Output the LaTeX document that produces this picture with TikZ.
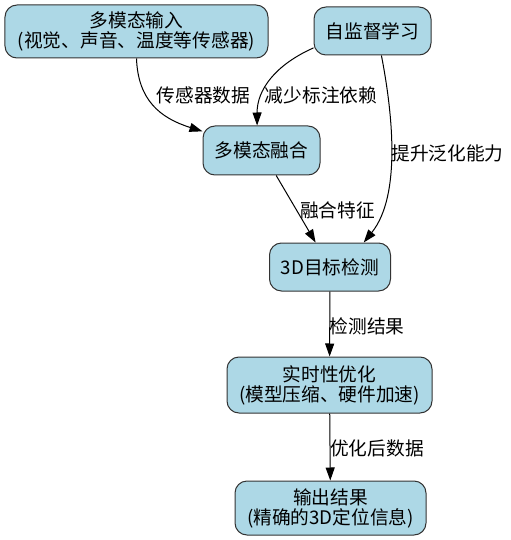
\documentclass[tikz,border=0pt]{standalone}
\usepackage{fontspec}
\setmainfont{Noto Sans CJK SC}
\usetikzlibrary{arrows.meta}
\definecolor{lightblue}{HTML}{ADD8E6}

\begin{document}
\begin{tikzpicture}[x=1bp,y=-1bp,font=\fontsize{18.7bp}{20bp}\selectfont]

% Define block styles
\tikzstyle{block} = [rectangle, draw=black!80, line width=1bp, fill=lightblue,
    rounded corners=12bp, align=center, inner sep=0pt]
\tikzstyle{line} = [draw, line width=1bp, -{Triangle[length=13bp,width=9bp]}]
\tikzstyle{lbl} = [inner sep=0pt]

\useasboundingbox (0,0) rectangle (511,540);

\node [block, minimum width=263bp, minimum height=53bp] (input) at (136.5,31.5) {多模态输入\\(视觉、声音、温度等传感器)};
\node [block, minimum width=117bp, minimum height=48bp] (selfsup) at (372.5,31) {自监督学习};
\node [block, minimum width=117bp, minimum height=49bp] (fusion) at (261.5,150.5) {多模态融合};
\node [block, minimum width=121bp, minimum height=48bp] (det) at (330,267) {3D目标检测};
\node [block, minimum width=205bp, minimum height=56bp] (opt) at (329.5,385) {实时性优化\\(模型压缩、硬件加速)};
\node [block, minimum width=191bp, minimum height=54bp] (output) at (330.5,508) {输出结果\\(精确的3D定位信息)};

\draw[line] (input.south) .. controls (138,100) and (160,118) .. (fusion.162);
\draw[line] (selfsup.196) .. controls (275,65) and (257,90) .. (fusion.100);
\draw[line] (selfsup.290) .. controls (392,110) and (402,195) .. (det.36);
\draw[line] (fusion) -- (det);
\draw[line] (det) -- (opt);
\draw[line] (opt) -- (output);

%\draw[line] (fusion) -- node[lbl,right] {融合特征} (det);
\node [lbl] (sensordata) at (203.5,95) {传感器数据};
\node [lbl] (lesslabel) at (321,95) {减少标注依赖};
\node [lbl] (general) at (447.5,153) {提升泛化能力};
\node [lbl] (fused) at (337.5,210) {融合特征};
\node [lbl] (result) at (367,326) {检测结果};
\node [lbl] (optdata) at (377,448) {优化后数据};

\end{tikzpicture}
\end{document}
